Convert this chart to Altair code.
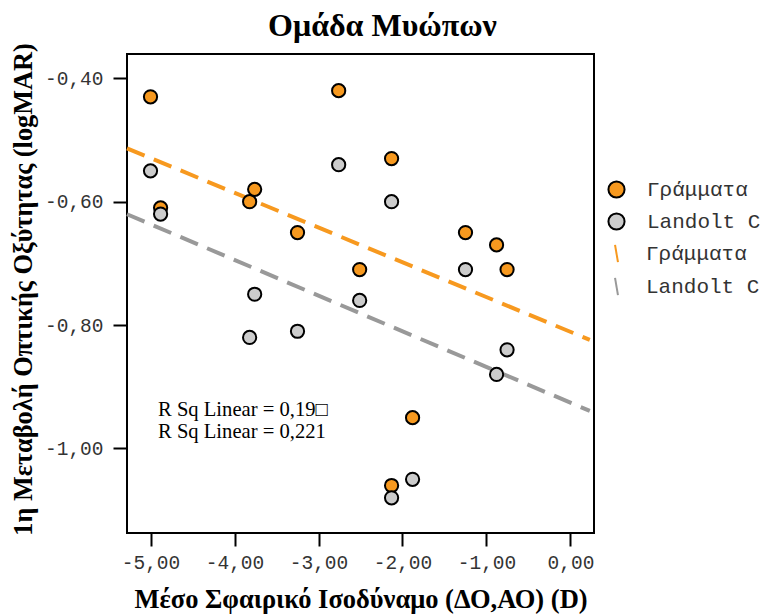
import altair as alt
import pandas as pd

# ---- data ----
sph_eq = [-5.0, -4.88, -3.82, -3.76, -3.25, -2.76, -2.51, -2.13, -2.13, -1.88, -1.25, -0.88, -0.755]
letters = [-0.43, -0.61, -0.60, -0.58, -0.65, -0.42, -0.71, -0.53, -1.06, -0.95, -0.65, -0.67, -0.71]
landolt = [-0.55, -0.62, -0.82, -0.75, -0.81, -0.54, -0.76, -0.60, -1.08, -1.05, -0.71, -0.88, -0.84]
groups = ["Γράμματα", "Landolt C"]
fit_groups = [g + "_fit" for g in groups]
colors = ["#F7991F", "#CCCCCC"]
line_colors = ["#F7991F", "#999999"]
r2_labels = ["0,19\u25a1", "0,221"]
x_ticks = [-5, -4, -3, -2, -1, 0]
y_ticks = [-1.0, -0.8, -0.6, -0.4]

rows = []
for x, a in zip(sph_eq, letters):
    rows.append({"x": x, "y": a, "group": groups[0]})
for x, b in zip(sph_eq, landolt):
    rows.append({"x": x, "y": b, "group": groups[1]})
df = pd.DataFrame(rows)

W, H = 467, 479
xscale = alt.Scale(domain=[-5.28, 0.28], nice=False, zero=False)
yscale = alt.Scale(domain=[-1.137, -0.3606], nice=False, zero=False)

lab_expr = "replace((datum.value < -0.0001 ? '-' : '') + format(abs(datum.value), '.2f'), '.', ',')"

xaxis = alt.Axis(values=x_ticks, labelExpr=lab_expr, title="Μέσο Σφαιρικό Ισοδύναμο (ΔΟ,ΑΟ) (D)",
                 grid=False, domain=False, tickSize=13, tickWidth=2, tickColor="black",
                 labelFont="Liberation Mono", labelFontSize=19.5, labelColor="#333333", labelPadding=7,
                 titleFont="Liberation Serif", titleFontSize=26.5, titleFontWeight="bold", titleColor="black",
                 titleY=74, titleBaseline="alphabetic")
yaxis = alt.Axis(values=y_ticks, labelExpr=lab_expr, title="1η Μεταβολή Οπτικής Οξύτητας (logMAR)",
                 grid=False, domain=False, tickSize=14, tickWidth=2, tickColor="black",
                 labelFont="Liberation Mono", labelFontSize=19.5, labelColor="#333333", labelPadding=10,
                 titleFont="Liberation Serif", titleFontSize=26.3, titleFontWeight="bold", titleColor="black",
                 titleX=-96, titleY=235, titleAngle=270, titleBaseline="alphabetic", titleAlign="center")

legend_common = dict(title=None, orient="none", labelFont="Liberation Mono", labelFontSize=21,
                     labelColor="#333333", rowPadding=7, padding=0)

base = alt.Chart(df)

lines = base.transform_regression(
    "x", "y", groupby=["group"], extent=[-5.28, 0.23]
).transform_calculate(fit="datum.group + '_fit'").mark_line(strokeWidth=4, strokeDash=[19, 10]).encode(
    x=alt.X("x:Q", scale=xscale, axis=xaxis),
    y=alt.Y("y:Q", scale=yscale, axis=yaxis),
    stroke=alt.Stroke("fit:N", scale=alt.Scale(domain=fit_groups, range=line_colors),
                      legend=alt.Legend(legendX=479, legendY=189,
                                        symbolType="M-0.17,-1L0.17,1", symbolSize=300,
                                        symbolStrokeWidth=2, labelOffset=19, rowPadding=6,
                                        labelExpr="replace(datum.label, '_fit', '')",
                                        **{k: v for k, v in legend_common.items() if k != "rowPadding"})),
)

points = base.mark_circle(size=175, opacity=1, stroke="black", strokeWidth=2).encode(
    x=alt.X("x:Q", scale=xscale, axis=xaxis),
    y=alt.Y("y:Q", scale=yscale, axis=yaxis),
    fill=alt.Fill("group:N", scale=alt.Scale(domain=groups, range=colors),
                  legend=alt.Legend(legendX=479, legendY=125,
                                    symbolType="circle", symbolSize=260, symbolStrokeColor="black",
                                    symbolStrokeWidth=2, symbolOpacity=1, labelOffset=20,
                                    **legend_common)),
)

ann = alt.Chart(pd.DataFrame({"t": ["R Sq Linear = " + r2_labels[0] + "\nR Sq Linear = " + r2_labels[1]]})).mark_text(
    align="left", baseline="alphabetic", font="Liberation Serif", fontSize=20.6, lineHeight=22, color="black",
    lineBreak="\n"
).encode(x=alt.value(31), y=alt.value(362), text="t:N")

chart = alt.layer(lines, points, ann).properties(
    width=W, height=H,
    title=alt.TitleParams("Ομάδα Μυώπων", font="Liberation Serif", fontSize=32, fontWeight="bold",
                          color="black", anchor="middle", dx=22, dy=37, offset=12, baseline="alphabetic"),
    autosize=alt.AutoSizeParams(type="none"),
    padding={"left": 127, "top": 54, "right": 170, "bottom": 82},
    background="white",
).configure_view(stroke="black", strokeWidth=2)

chart.save("out.html", embed_options={"renderer": "svg", "actions": False})
